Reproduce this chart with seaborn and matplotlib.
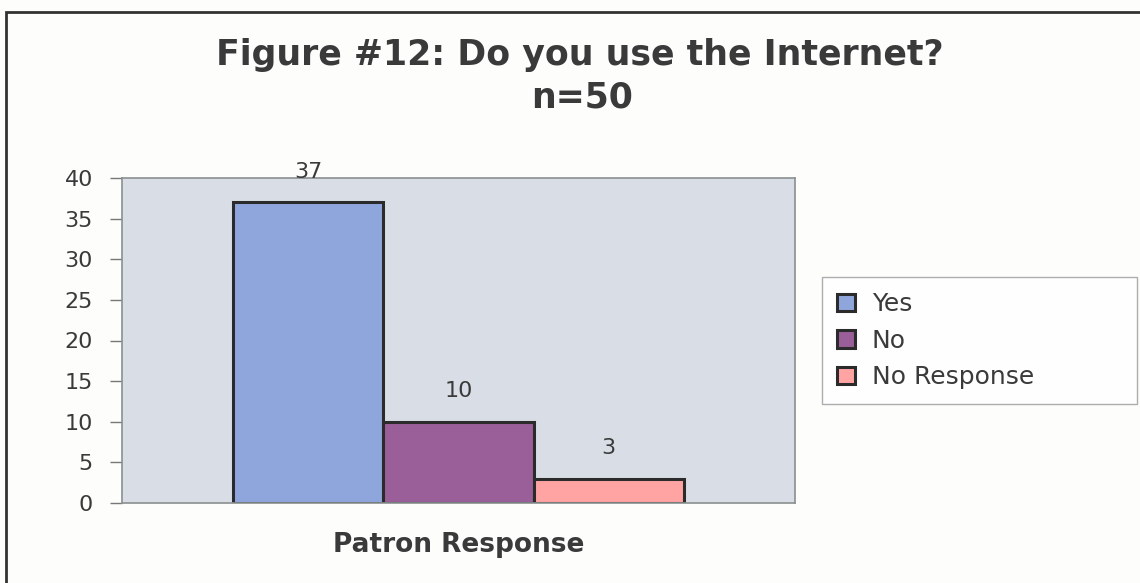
import pandas as pd
import seaborn as sns
import matplotlib.pyplot as plt
from matplotlib.patches import Rectangle

# data
responses = ['Yes', 'No', 'No Response']
counts = [37, 10, 3]
group = ['Patron Response'] * 3
colors = ['#8FA6DD', '#9A5E99', '#FFA3A3']

df = pd.DataFrame({'group': group, 'response': responses, 'count': counts})

sns.set_theme(style='white')
plt.rcParams['font.family'] = ['DejaVu Sans']
txt = '#3A3A3A'

fig = plt.figure(figsize=(11.4, 5.83), dpi=100)
fig.patch.set_facecolor('#FDFDFB')
ax = fig.add_axes([122 / 1140, 1 - 503 / 583, 673 / 1140, 325 / 583])

sns.barplot(data=df, x='group', y='count', hue='response', palette=colors,
            width=0.8, edgecolor='#2B2B2B', linewidth=2.2, saturation=1,
            legend=True, ax=ax)

ax.set_facecolor('#D9DDE5')
ax.set_xlim(-0.598, 0.598)
ax.set_ylim(0, 40)
ax.set_yticks(range(0, 41, 5))
ax.tick_params(axis='y', labelsize=16, colors=txt, length=9, width=1,
               direction='out', left=True, pad=12)
ax.tick_params(axis='y', color='#777777')
ax.tick_params(axis='x', length=0, pad=21)
for lab in ax.get_xticklabels():
    lab.set_fontweight('bold')
    lab.set_fontsize(19)
    lab.set_color(txt)
ax.set_xlabel('')
ax.set_ylabel('')
for s in ax.spines.values():
    s.set_color('#8A9090')
    s.set_linewidth(1.2)

# value labels above bars
for cont in ax.containers:
    ax.bar_label(cont, padding=15, fontsize=16, color=txt)

# legend
handles, labels = ax.get_legend_handles_labels()
leg = fig.legend(handles, labels, loc='upper left', mode='expand',
                 bbox_to_anchor=(822 / 1140, 1 - 405 / 583, 315 / 1140, 128 / 583),
                 fontsize=18, frameon=True, fancybox=False,
                 handlelength=0.7, handleheight=0.7, handletextpad=0.7,
                 labelspacing=0.5, borderpad=0.6, borderaxespad=0,
                 labelcolor=txt)
leg.get_frame().set_edgecolor('#999999')
leg.get_frame().set_linewidth(1)
leg.get_frame().set_facecolor('white')
ax.get_legend().remove()

# title
fig.text(580 / 1140, 1 - 55 / 583, 'Figure #12: Do you use the Internet?',
         ha='center', va='center', fontsize=25, fontweight='bold', color=txt)
fig.text(582 / 1140, 1 - 98 / 583, 'n=50',
         ha='center', va='center', fontsize=25, fontweight='bold', color=txt)

# outer chart border
fig.patches.append(Rectangle((6 / 1140, -0.05), 1.2, 1 - 12 / 583 + 0.05,
                             transform=fig.transFigure, fill=False,
                             edgecolor='#333333', linewidth=2))

fig.savefig('out.png', dpi=100, facecolor=fig.get_facecolor())
